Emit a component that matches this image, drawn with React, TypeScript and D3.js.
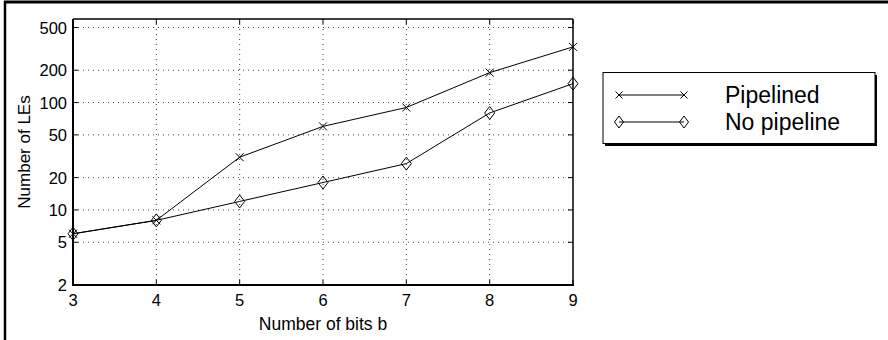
import React from "react";
import * as d3 from "d3";

const bits = [3, 4, 5, 6, 7, 8, 9];
const pipelined = [6, 8, 31, 60, 90, 190, 330];
const noPipeline = [6, 8, 12, 18, 27, 80, 150];
const yTicks = [2, 5, 10, 20, 50, 100, 200, 500];
const seriesNames = ["Pipelined", "No pipeline"];

const W = 888;
const H = 340;
const M = { left: 73, right: 573, top: 19, bottom: 285 };
const FONT = "'Liberation Sans', Arial, Helvetica, sans-serif";

function Cross({ x, y, s = 4 }: { x: number; y: number; s?: number }) {
  return (
    <g stroke="#000" strokeWidth={1}>
      <line x1={x - s} y1={y - s} x2={x + s} y2={y + s} />
      <line x1={x - s} y1={y + s} x2={x + s} y2={y - s} />
    </g>
  );
}

function Diamond({ x, y, w = 5, h = 6.5 }: { x: number; y: number; w?: number; h?: number }) {
  return (
    <path
      d={`M${x},${y - h}L${x + w},${y}L${x},${y + h}L${x - w},${y}Z`}
      fill="none"
      stroke="#000"
      strokeWidth={1}
    />
  );
}

export default function App() {
  const x = d3.scaleLinear().domain([3, 9]).range([M.left, M.right]);
  const y = d3.scaleLog().domain([2, 600]).range([M.bottom, M.top]);
  const line = d3
    .line<number>()
    .x((_, i) => x(bits[i]))
    .y((d) => y(d));

  const tickLen = 5;

  return (
    <svg
      width={W}
      height={H}
      style={{ position: "absolute", left: 0, top: 0, background: "#fff" }}
      fontFamily={FONT}
    >
      <rect x={0} y={0} width={W} height={H} fill="#fff" />
      {/* outer frame (top & left visible) */}
      <line x1={4} y1={2} x2={W} y2={2} stroke="#000" strokeWidth={3} />
      <line x1={5} y1={1} x2={5} y2={H} stroke="#000" strokeWidth={2.5} />

      {/* grid */}
      <g stroke="#444" strokeWidth={1} strokeDasharray="1,4">
        {bits.slice(1, -1).map((b) => (
          <line key={"gx" + b} x1={x(b)} x2={x(b)} y1={M.top} y2={M.bottom} />
        ))}
        {yTicks.slice(1).map((t) => (
          <line key={"gy" + t} x1={M.left} x2={M.right} y1={y(t)} y2={y(t)} />
        ))}
      </g>

      {/* ticks */}
      <g stroke="#000" strokeWidth={1}>
        {bits.map((b) => (
          <g key={"tx" + b}>
            <line x1={x(b)} x2={x(b)} y1={M.bottom} y2={M.bottom - tickLen} />
            <line x1={x(b)} x2={x(b)} y1={M.top} y2={M.top + tickLen} />
          </g>
        ))}
        {yTicks.map((t) => (
          <g key={"ty" + t}>
            <line x1={M.left} x2={M.left + tickLen} y1={y(t)} y2={y(t)} />
            <line x1={M.right} x2={M.right - tickLen} y1={y(t)} y2={y(t)} />
          </g>
        ))}
      </g>

      {/* axes box */}
      <line x1={M.left} x2={M.right} y1={M.top} y2={M.top} stroke="#000" strokeWidth={1.5} />
      <line x1={M.right} x2={M.right} y1={M.top} y2={M.bottom} stroke="#000" strokeWidth={1.5} />
      <line x1={M.left} x2={M.right + 1} y1={M.bottom} y2={M.bottom} stroke="#000" strokeWidth={2} />
      <line x1={M.left} x2={M.left} y1={M.top} y2={M.bottom + 1} stroke="#000" strokeWidth={2} />

      {/* tick labels */}
      <g fontSize={16.5} fill="#000">
        {bits.map((b) => (
          <text key={"lx" + b} x={x(b)} y={M.bottom + 21} textAnchor="middle">
            {b}
          </text>
        ))}
        {yTicks.map((t) => (
          <text key={"ly" + t} x={M.left - 6} y={y(t) + 6} textAnchor="end">
            {t}
          </text>
        ))}
      </g>

      {/* axis titles */}
      <text x={(M.left + M.right) / 2} y={330} textAnchor="middle" fontSize={17.5}>
        Number of bits b
      </text>
      <text
        transform={`translate(30,${(M.top + M.bottom) / 2}) rotate(-90)`}
        textAnchor="middle"
        fontSize={17}
      >
        Number of LEs
      </text>

      {/* series */}
      <path d={line(pipelined) || ""} fill="none" stroke="#000" strokeWidth={1} />
      <path d={line(noPipeline) || ""} fill="none" stroke="#000" strokeWidth={1} />
      {pipelined.map((v, i) => (
        <Cross key={"p" + i} x={x(bits[i])} y={y(v)} />
      ))}
      {noPipeline.map((v, i) => (
        <Diamond key={"n" + i} x={x(bits[i])} y={y(v)} />
      ))}

      {/* legend */}
      <g>
        <rect x={605} y={75} width={272} height={71} fill="#000" />
        <rect x={603} y={72.5} width={272} height={71} fill="#fff" stroke="#000" strokeWidth={1} />
        <line x1={619} x2={684} y1={95} y2={95} stroke="#000" />
        <Cross x={619} y={95} s={3.5} />
        <Cross x={684} y={95} s={3.5} />
        <line x1={619} x2={684} y1={122} y2={122} stroke="#000" />
        <Diamond x={619} y={122} w={4.5} h={6} />
        <Diamond x={684} y={122} w={4.5} h={6} />
        <text x={725} y={103} fontSize={23}>
          {seriesNames[0]}
        </text>
        <text x={725} y={130} fontSize={23}>
          {seriesNames[1]}
        </text>
      </g>
    </svg>
  );
}
